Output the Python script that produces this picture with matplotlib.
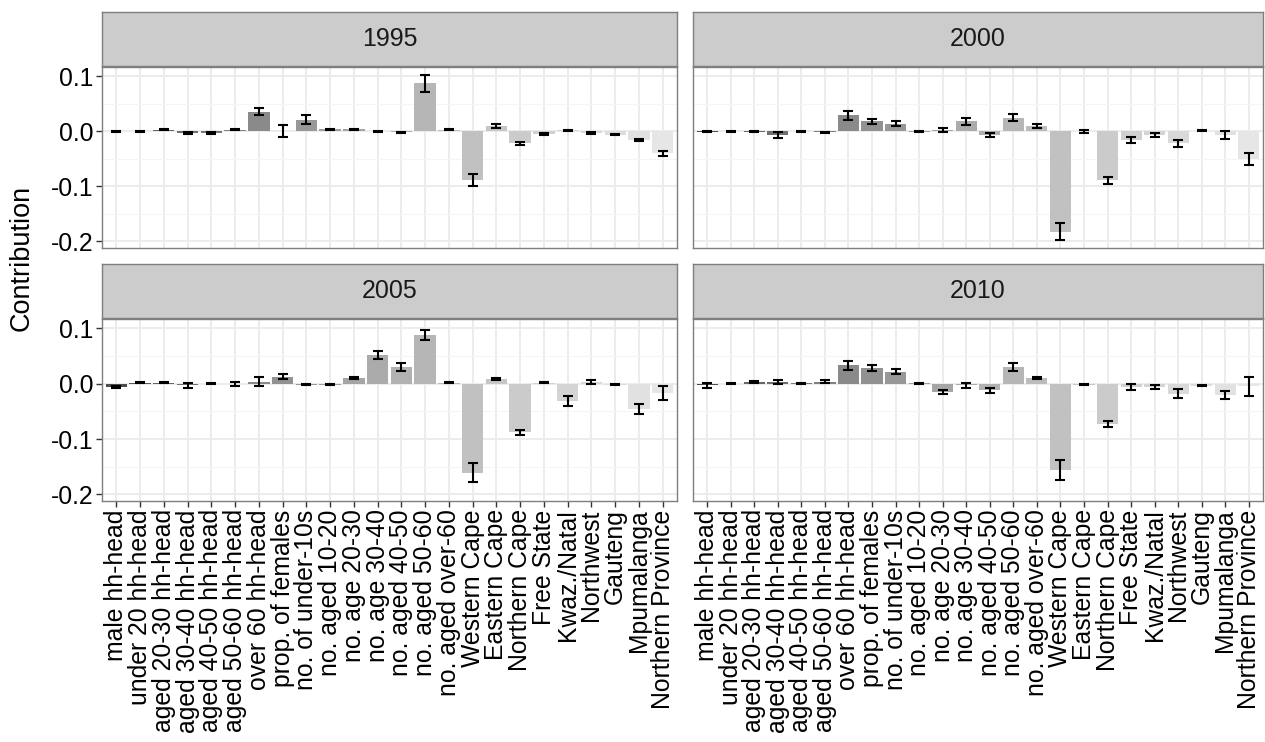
import matplotlib.pyplot as plt
import numpy as np

plt.rcParams["font.family"] = ["Liberation Sans", "DejaVu Sans"]

categories = ["male hh-head", "under 20 hh-head", "aged 20-30 hh-head",
              "aged 30-40 hh-head", "aged 40-50 hh-head", "aged 50-60 hh-head",
              "over 60 hh-head", "prop. of females", "no. of under-10s",
              "no. aged 10-20", "no. age 20-30", "no. age 30-40",
              "no. aged 40-50", "no. aged 50-60", "no. aged over-60",
              "Western Cape", "Eastern Cape", "Northern Cape", "Free State",
              "Kwaz./Natal", "Northwest", "Gauteng", "Mpumalanga",
              "Northern Province"]
years = ["1995", "2000", "2005", "2010"]

contrib_1995 = [0.000, 0.000, 0.003, -0.003, -0.003, 0.003, 0.036, 0.000,
                0.021, 0.004, 0.004, 0.000, -0.002, 0.087, 0.003, -0.089,
                0.010, -0.022, -0.005, 0.002, -0.003, -0.006, -0.015, -0.040]
err_1995 = [0.001, 0.001, 0.001, 0.002, 0.002, 0.001, 0.006, 0.011,
            0.008, 0.001, 0.001, 0.001, 0.001, 0.015, 0.001, 0.011,
            0.003, 0.003, 0.002, 0.001, 0.001, 0.001, 0.002, 0.005]

contrib_2000 = [-0.001, 0.000, -0.001, -0.007, 0.000, -0.002, 0.029, 0.018,
                0.014, -0.001, 0.003, 0.018, -0.007, 0.025, 0.010, -0.182,
                0.000, -0.089, -0.016, -0.007, -0.022, 0.001, -0.007, -0.051]
err_2000 = [0.001, 0.001, 0.001, 0.005, 0.001, 0.001, 0.008, 0.004,
            0.004, 0.001, 0.004, 0.006, 0.004, 0.006, 0.003, 0.015,
            0.003, 0.006, 0.005, 0.004, 0.006, 0.001, 0.007, 0.011]

contrib_2005 = [-0.006, 0.002, 0.002, -0.003, 0.000, 0.000, 0.004, 0.013,
                -0.002, -0.002, 0.010, 0.052, 0.030, 0.088, 0.002, -0.161,
                0.008, -0.088, 0.002, -0.032, 0.003, -0.002, -0.045, -0.017]
err_2005 = [0.002, 0.001, 0.001, 0.004, 0.001, 0.004, 0.008, 0.005,
            0.001, 0.001, 0.002, 0.008, 0.007, 0.009, 0.001, 0.017,
            0.002, 0.005, 0.001, 0.009, 0.003, 0.001, 0.009, 0.012]

contrib_2010 = [-0.003, 0.000, 0.003, 0.003, 0.001, 0.004, 0.033, 0.028,
                0.022, 0.001, -0.015, -0.003, -0.012, 0.030, 0.011, -0.156,
                -0.002, -0.073, -0.006, -0.006, -0.018, -0.004, -0.021, -0.005]
err_2010 = [0.004, 0.001, 0.002, 0.004, 0.001, 0.002, 0.008, 0.005,
            0.004, 0.001, 0.004, 0.005, 0.005, 0.007, 0.002, 0.018,
            0.001, 0.005, 0.006, 0.003, 0.008, 0.001, 0.007, 0.017]

contribs = [contrib_1995, contrib_2000, contrib_2005, contrib_2010]
errors = [err_1995, err_2000, err_2005, err_2010]


def grey_colors(n, start=0.3, end=0.9, gamma=2.2):
    # same ramp as R's grey.colors()
    levels = np.linspace(start ** gamma, end ** gamma, n) ** (1 / gamma)
    return [(g, g, g) for g in levels]


W, H = 1265, 742
fig = plt.figure(figsize=(W / 100, H / 100), dpi=100)

# panel boxes in pixels: (left, right) and (top, bottom)
panel_x = [(102, 677), (693, 1263)]
panel_y = [(67, 248), (319, 501)]
strip_h = 54

colors = grey_colors(len(categories))
x = np.arange(len(categories))
n = len(categories)

lo = min(min(np.array(c) - np.array(e)) for c, e in zip(contribs, errors))
hi = max(max(np.array(c) + np.array(e)) for c, e in zip(contribs, errors))
pad = (hi - lo) * 0.05
ylim = (lo - pad, hi + pad)

border = "#7f7f7f"
for k, year in enumerate(years):
    row, col = divmod(k, 2)
    x0, x1 = panel_x[col]
    y0, y1 = panel_y[row]
    ax = fig.add_axes([x0 / W, 1 - y1 / H, (x1 - x0) / W, (y1 - y0) / H])
    ax.set_axisbelow(True)
    ax.bar(x, contribs[k], width=0.9, color=colors, zorder=2)
    ax.errorbar(x, contribs[k], yerr=errors[k], fmt="none", ecolor="black",
                elinewidth=1.5, capsize=3.5, capthick=1.5, zorder=3)
    ax.set_xlim(-0.6, n - 0.4)
    ax.set_ylim(*ylim)
    ax.set_yticks([-0.2, -0.1, 0.0, 0.1])
    ax.set_yticks([-0.15, -0.05, 0.05], minor=True)
    ax.set_xticks(x)
    ax.grid(which="major", color="#ebebeb", linewidth=1.3, zorder=0)
    ax.grid(which="minor", axis="y", color="#f5f5f5", linewidth=0.8, zorder=0)
    for s in ax.spines.values():
        s.set_color(border)
        s.set_linewidth(1.0)
    ax.tick_params(which="minor", length=0)
    ax.tick_params(which="major", length=4, width=1, color="#333333",
                   labelsize=17.8, labelcolor="black", pad=2)
    if col == 0:
        ax.set_yticklabels(["-0.2", "-0.1", "0.0", "0.1"])
    else:
        ax.tick_params(axis="y", length=0, labelleft=False)
    if row == 1:
        ax.set_xticklabels(categories, rotation=90)
    else:
        ax.tick_params(axis="x", length=0, labelbottom=False)

    # facet strip
    sx = fig.add_axes([x0 / W, 1 - (y0 - 1) / H, (x1 - x0) / W, strip_h / H])
    sx.set_facecolor("#cccccc")
    sx.set_xticks([])
    sx.set_yticks([])
    for s in sx.spines.values():
        s.set_color(border)
        s.set_linewidth(1.0)
    sx.text(0.5, 0.5, year, ha="center", va="center", fontsize=18,
            color="#1a1a1a", transform=sx.transAxes)

fig.text(22 / W, 1 - 258 / H, "Contribution", rotation=90, ha="center",
         va="center", fontsize=19.5, color="black")

fig.savefig("out.png", dpi=100)
